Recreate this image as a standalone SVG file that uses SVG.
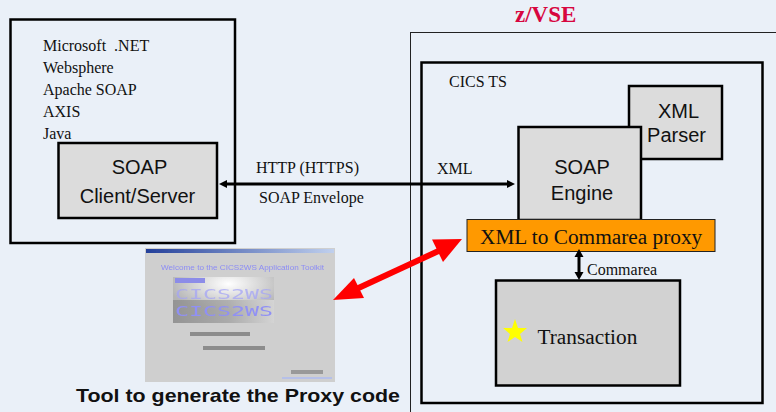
<svg xmlns="http://www.w3.org/2000/svg" width="776" height="412" viewBox="0 0 776 412">
<style>
.s{font-family:"Liberation Serif","Times New Roman",serif;fill:#111}
.a{font-family:"Liberation Sans",Arial,sans-serif;fill:#111;text-anchor:middle;font-size:20px}
.box{stroke:#000;stroke-width:2.5;fill:none}
.g{stroke:#000;stroke-width:2.5;fill:#dcdcdc}
.t14{font-size:16px}
</style>
<defs>
<filter id="b1" x="-5%" y="-5%" width="110%" height="110%"><feGaussianBlur stdDeviation="0.7"/></filter>
<linearGradient id="title" x1="0" x2="1" y1="0" y2="0"><stop offset="0" stop-color="#24409a"/><stop offset="1" stop-color="#c0d0ee"/></linearGradient>
<radialGradient id="logo" cx="0.55" cy="0.15" r="0.6"><stop offset="0" stop-color="#ffffff"/><stop offset="1" stop-color="#b4b4b4"/></radialGradient>
<linearGradient id="logoLow" x1="0" x2="1" y1="0" y2="0"><stop offset="0" stop-color="#8c8c8c"/><stop offset="0.55" stop-color="#a8a8a8"/><stop offset="1" stop-color="#dcdcdc"/></linearGradient>
</defs>
<rect width="776" height="412" fill="#eaf0f8"/>
<g id="zvse">
<rect x="410.5" y="32.5" width="380" height="400" fill="none" stroke="#222" stroke-width="1"/>
<text x="515" y="22" font-family="Liberation Serif, serif" font-weight="bold" font-size="23" fill="#d7063f">z/VSE</text>
</g>
<g id="cics">
<rect class="box" x="421.5" y="62.5" width="341" height="340.5"/>
<text class="s t14" x="449" y="87">CICS TS</text>
</g>
<g id="client-platform">
<rect class="box" x="10.5" y="19.5" width="224.5" height="223.5"/>
<text class="s t14" x="43" y="50.500" xml:space="preserve">Microsoft  .NET</text>
<text class="s t14" x="43" y="72.500">Websphere</text>
<text class="s t14" x="43" y="94.500">Apache SOAP</text>
<text class="s t14" x="43" y="116.500">AXIS</text>
<text class="s t14" x="43" y="138.500">Java</text>
</g>
<g id="soap-client">
<rect class="g" x="58.500" y="143" width="158.500" height="75"/>
<text class="a" x="139.500" y="174">SOAP</text>
<text class="a" x="137.500" y="203">Client/Server</text>
</g>
<g id="xml-parser">
<rect class="g" x="629" y="86" width="93" height="73"/>
<text class="a" x="678.500" y="118">XML</text>
<text class="a" x="676.500" y="142">Parser</text>
</g>
<g id="soap-engine">
<rect class="g" x="518.500" y="127" width="122.500" height="93"/>
<text class="a" x="582" y="174">SOAP</text>
<text class="a" x="582" y="200">Engine</text>
</g>
<g id="proxy">
<rect x="467" y="219.500" width="248" height="32" fill="#ff9900" stroke="#222" stroke-width="1"/>
<text class="s" x="480" y="244" font-size="21.300">XML to Commarea proxy</text>
</g>
<g id="transaction">
<rect x="496" y="280.500" width="184" height="105" fill="#d2d2d2" stroke="#000" stroke-width="2.500"/>
<polygon points="515,319 518,328 527,328 520,334 522.500,342 515,337 507.500,342 510,334 503,328 512,328" fill="#ffff00"/>
<text class="s" x="537.500" y="344" font-size="21.300">Transaction</text>
</g>
<g id="tool">
<g filter="url(#b1)">
<rect x="145" y="248" width="190" height="134" fill="#cfcfcf"/>
<rect x="146" y="249" width="188" height="4" fill="url(#title)"/>
<rect x="173" y="277" width="101" height="46" fill="url(#logo)"/>
<rect x="173" y="300" width="101" height="23" fill="url(#logoLow)" opacity="0.8"/>
<text x="161" y="270" font-family="Liberation Sans, sans-serif" font-size="6.500" textLength="163" lengthAdjust="spacingAndGlyphs" fill="#8c8cf5">Welcome to the CICS2WS Application Toolkit</text>
<rect x="175" y="278" width="30" height="5" fill="#8c8ce8"/>
<text x="175" y="299" font-family="DejaVu Sans Mono, monospace" font-size="14" textLength="98" lengthAdjust="spacingAndGlyphs" fill="#a4a4f5" fill-opacity="0.75">CICS2WS</text>
<text x="175" y="316" font-family="DejaVu Sans Mono, monospace" font-size="14" textLength="98" lengthAdjust="spacingAndGlyphs" fill="#9090f5">CICS2WS</text>
<rect x="190" y="332" width="60" height="4" fill="#8c8c8c"/>
<rect x="203" y="346" width="62" height="4" fill="#8c8c8c"/>
<rect x="291" y="370" width="32" height="4" fill="#999"/>
<rect x="282" y="377" width="50" height="2" fill="#b6c0e8"/>
</g>
<text x="76" y="402" font-family="Liberation Sans, sans-serif" font-weight="bold" font-size="19" fill="#111" textLength="324" lengthAdjust="spacingAndGlyphs">Tool to generate the Proxy code</text>
</g>
<g id="connectors">
<line x1="225" y1="184" x2="509" y2="184" stroke="#000" stroke-width="3"/>
<polygon points="219,184 227,180 227,188" fill="#000"/>
<polygon points="515,184 507,180 507,188" fill="#000"/>
<line x1="579" y1="255" x2="579" y2="275" stroke="#000" stroke-width="3"/>
<polygon points="579,249 574.500,257 583.500,257" fill="#000"/>
<polygon points="579,280 574.500,272 583.500,272" fill="#000"/>
<line x1="352" y1="291" x2="445" y2="248" stroke="#ff0000" stroke-width="6"/>
<polygon points="333,300 354,278 364,298" fill="#ff0000"/>
<polygon points="462,239 432,239.500 443,262" fill="#ff0000"/>
<text class="s t14" x="256" y="173">HTTP (HTTPS)</text>
<text class="s t14" x="259" y="203">SOAP Envelope</text>
<text class="s t14" x="437" y="174">XML</text>
<text class="s t14" x="587" y="275">Commarea</text>
</g>
</svg>
